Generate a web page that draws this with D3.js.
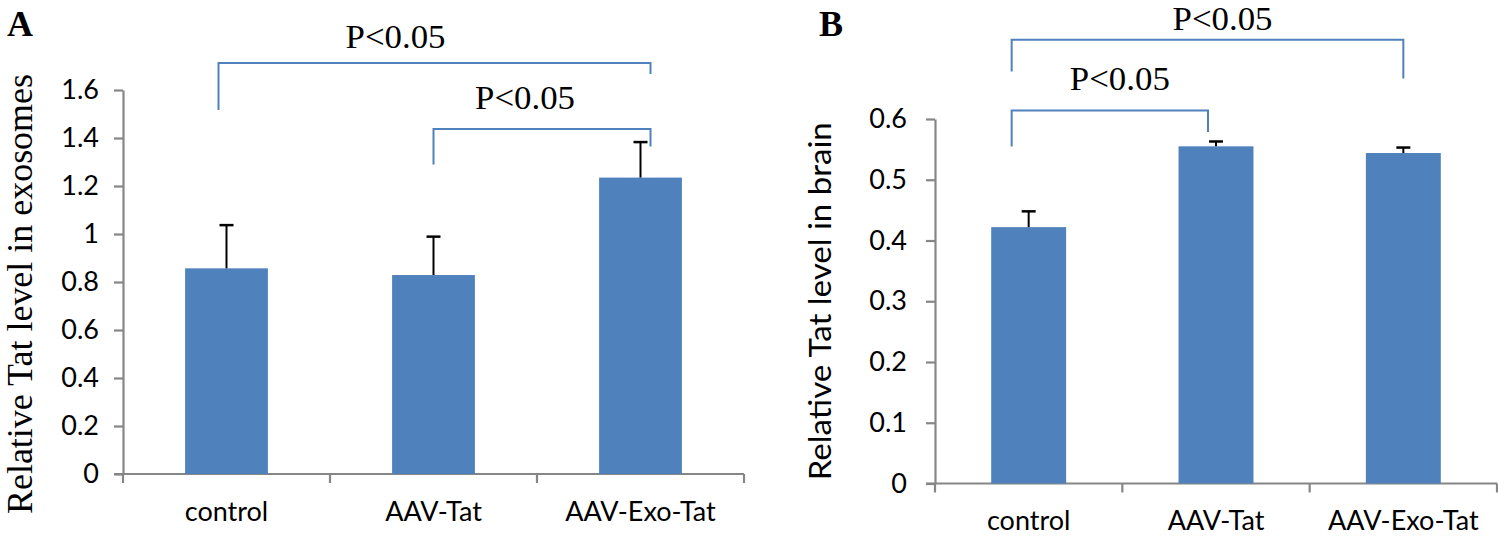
<!DOCTYPE html>
<html>
<head>
<meta charset="utf-8">
<script src="https://cdn.jsdelivr.net/npm/d3@7"></script>
<style>
  body { margin: 0; background: #fff; }
  svg { display: block; }
</style>
</head>
<body>
<div id="chart"></div>
<script>
// ---- data ----
const categories = ['control', 'AAV-Tat', 'AAV-Exo-Tat'];

const exosomeMeans = [0.857, 0.829, 1.235];
const exosomeErrors = [0.18, 0.16, 0.148];
const exosomeTicks = [0, 0.2, 0.4, 0.6, 0.8, 1, 1.2, 1.4, 1.6];

const brainMeans = [0.422, 0.555, 0.544];
const brainErrors = [0.026, 0.008, 0.009];
const brainTicks = [0, 0.1, 0.2, 0.3, 0.4, 0.5, 0.6];

// significance brackets: [from, to, level, left leg end, right leg end, label]
const exosomeBrackets = [
    ['control', 'AAV-Exo-Tat', 1.712, 1.517, 1.667, 'P<0.05'],
    ['AAV-Tat', 'AAV-Exo-Tat', 1.437, 1.29, 1.365, 'P<0.05']
];
const brainBrackets = [
    ['control', 'AAV-Exo-Tat', 0.7305, 0.678, 0.6665, 'P<0.05'],
    ['control', 'AAV-Tat', 0.614, 0.5546, 0.5786, 'P<0.05']
];

const W = 1498, H = 541;
const barColor = '#4f81bd';
const axisColor = '#868686';
const serif = '"Liberation Serif", "Times New Roman", Times, serif';

const svg = d3.select('#chart').append('svg')
    .attr('width', W)
    .attr('height', H);

function drawPanel(opts) {
    const { letter, letterX, left, right, top, bottom, yMax, ticks, means, errors,
            brackets, yLabel, yLabelFont, yLabelSize, yLabelLen, yLabelX, tickSize,
            catBaseline, bracketNudge } = opts;

    const g = svg.append('g');

    const x = d3.scaleBand()
        .domain(categories)
        .range([left, right])
        .paddingInner(0.6)
        .paddingOuter(0.3);

    const y = d3.scaleLinear()
        .domain([0, yMax])
        .range([bottom, top]);

    // y axis
    const yAxis = g.append('g')
        .attr('transform', `translate(${left},0)`)
        .call(d3.axisLeft(y).tickValues(ticks).tickSize(9).tickSizeOuter(0).tickPadding(opts.tickPad)
            .tickFormat(d3.format('~g')));
    yAxis.select('.domain').attr('stroke', axisColor).attr('stroke-width', 2.2);
    yAxis.selectAll('.tick line').attr('stroke', axisColor).attr('stroke-width', 2.2);
    yAxis.selectAll('.tick text')
        .attr('fill', '#000')
        .style('font-family', 'Lato, sans-serif')
        .style('font-size', tickSize + 'px');

    // x axis with ticks on band boundaries
    const xa = g.append('g');
    xa.append('line')
        .attr('x1', left - 9).attr('x2', right)
        .attr('y1', bottom).attr('y2', bottom)
        .attr('stroke', axisColor).attr('stroke-width', 2.2);
    xa.selectAll('.xt')
        .data(d3.range(categories.length + 1))
        .join('line')
        .attr('class', 'xt')
        .attr('x1', i => left + i * (right - left) / categories.length)
        .attr('x2', i => left + i * (right - left) / categories.length)
        .attr('y1', bottom).attr('y2', bottom + 9)
        .attr('stroke', axisColor).attr('stroke-width', 2.2);
    xa.selectAll('.cat')
        .data(categories)
        .join('text')
        .attr('class', 'cat')
        .attr('x', d => x(d) + x.bandwidth() / 2)
        .attr('y', catBaseline)
        .attr('text-anchor', 'middle')
        .style('font-family', 'Lato, sans-serif')
        .style('font-size', '27px')
        .text(d => d);

    // bars
    g.selectAll('.bar')
        .data(categories)
        .join('rect')
        .attr('class', 'bar')
        .attr('x', d => x(d))
        .attr('width', x.bandwidth())
        .attr('y', (d, i) => y(means[i]))
        .attr('height', (d, i) => bottom - y(means[i]))
        .attr('fill', barColor);

    // error bars (upper only)
    const eb = g.selectAll('.err')
        .data(categories)
        .join('g')
        .attr('class', 'err');
    eb.append('line')
        .attr('x1', d => x(d) + x.bandwidth() / 2)
        .attr('x2', d => x(d) + x.bandwidth() / 2)
        .attr('y1', (d, i) => y(means[i]))
        .attr('y2', (d, i) => y(means[i] + errors[i]))
        .attr('stroke', '#000').attr('stroke-width', 2);
    eb.append('line')
        .attr('x1', d => x(d) + x.bandwidth() / 2 - 7)
        .attr('x2', d => x(d) + x.bandwidth() / 2 + 7)
        .attr('y1', (d, i) => y(means[i] + errors[i]))
        .attr('y2', (d, i) => y(means[i] + errors[i]))
        .attr('stroke', '#000').attr('stroke-width', 2.5);

    // significance brackets
    brackets.forEach((b, k) => {
        const [from, to, level, legL, legR, label] = b;
        const nd = bracketNudge[k];
        const x1 = x(from) + x.bandwidth() / 2 + nd.l;
        const x2 = x(to) + x.bandwidth() / 2 + nd.r;
        g.append('path')
            .attr('d', `M${x1},${y(legL)}V${y(level)}H${x2}V${y(legR)}`)
            .attr('fill', 'none')
            .attr('stroke', barColor)
            .attr('stroke-width', 2);
        g.append('text')
            .attr('x', (x1 + x2) / 2 + nd.t)
            .attr('y', y(level) - nd.up)
            .attr('text-anchor', 'middle')
            .attr('textLength', 100)
            .attr('lengthAdjust', 'spacingAndGlyphs')
            .style('font-family', serif)
            .style('font-size', '34px')
            .text(label);
    });

    // y label
    g.append('text')
        .attr('transform', `translate(${yLabelX},${(top + bottom) / 2 + opts.yLabelShift}) rotate(-90)`)
        .attr('text-anchor', 'middle')
        .attr('textLength', yLabelLen)
        .attr('lengthAdjust', 'spacingAndGlyphs')
        .attr('font-family', yLabelFont)
        .style('font-family', yLabelFont)
        .style('font-size', yLabelSize + 'px')
        .text(yLabel);

    // panel letter
    g.append('text')
        .attr('x', letterX)
        .attr('y', 36)
        .style('font-family', serif)
        .style('font-weight', 'bold')
        .style('font-size', '36px')
        .text(letter);
}

drawPanel({
    letter: 'A', letterX: 7,
    left: 123, right: 744, top: 90, bottom: 474, yMax: 1.6,
    ticks: exosomeTicks, means: exosomeMeans, errors: exosomeErrors,
    brackets: exosomeBrackets,
    bracketNudge: [{ l: -8, r: 10, t: -39, up: 15 }, { l: 0, r: 10, t: -17, up: 20 }],
    yLabel: 'Relative Tat level in exosomes',
    yLabelFont: serif,
    yLabelSize: 35, yLabelLen: 440, yLabelX: 32, yLabelShift: 12,
    tickSize: 27, tickPad: 15, catBaseline: 521
});

drawPanel({
    letter: 'B', letterX: 819,
    left: 935, right: 1497, top: 119, bottom: 483.5, yMax: 0.6,
    ticks: brainTicks, means: brainMeans, errors: brainErrors,
    brackets: brainBrackets,
    bracketNudge: [{ l: -17, r: 0, t: 15, up: 10 }, { l: -17, r: -8, t: 10, up: 20 }],
    yLabel: 'Relative Tat level in brain',
    yLabelFont: 'Lato, sans-serif',
    yLabelSize: 30, yLabelLen: 358, yLabelX: 831, yLabelShift: 0,
    tickSize: 27, tickPad: 19, catBaseline: 530
});
</script>
</body>
</html>
